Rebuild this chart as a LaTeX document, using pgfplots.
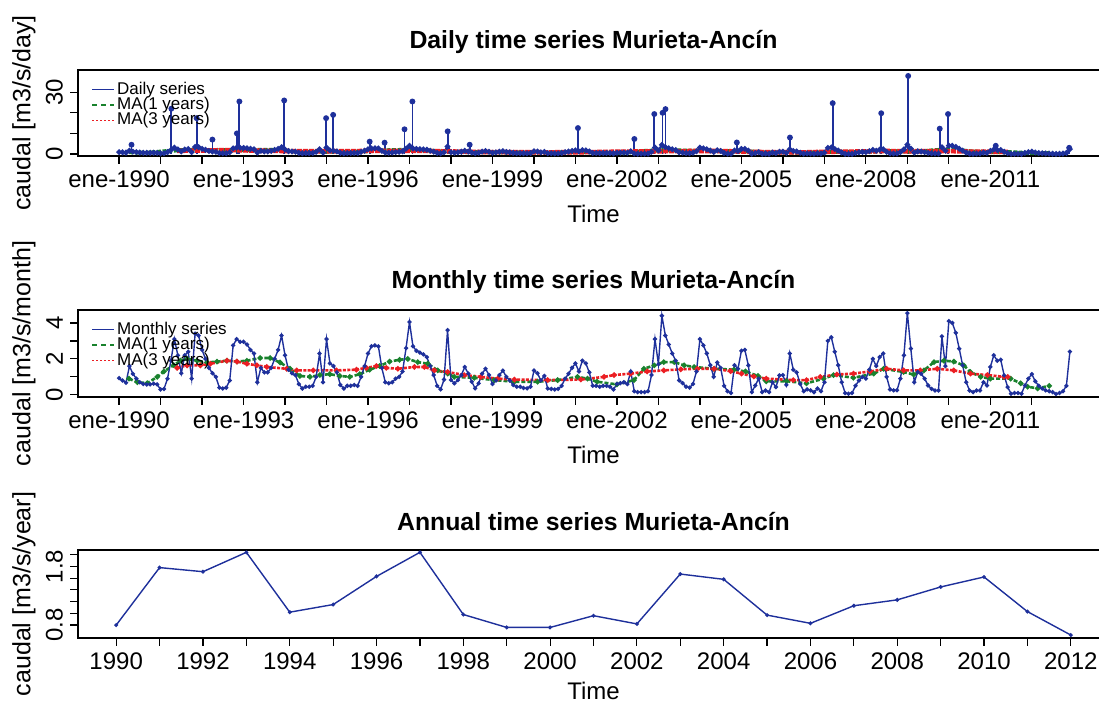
\documentclass[border=0pt]{standalone}
\usepackage{fontspec}
\setmainfont{Liberation Sans}
\usepackage{pgfplots}
\usepackage{pgfplotstable}
\pgfplotsset{compat=1.18}
\definecolor{ser}{RGB}{30,48,155}
\definecolor{magreen}{RGB}{25,130,45}
\definecolor{mared}{RGB}{235,30,35}

\pgfplotstableread{
t v
1990.000 0.93
1990.083 0.80
1990.167 0.67
1990.250 1.60
1990.333 1.17
1990.417 0.90
1990.500 0.70
1990.583 0.60
1990.667 0.58
1990.750 0.58
1990.833 0.62
1990.917 0.58
1991.000 0.30
1991.083 0.33
1991.167 0.90
1991.250 1.90
1991.333 3.10
1991.417 2.20
1991.500 1.20
1991.583 2.20
1991.667 2.40
1991.750 0.90
1991.833 3.40
1991.917 3.30
1992.000 2.50
1992.083 2.00
1992.167 1.50
1992.250 1.20
1992.333 1.00
1992.417 0.40
1992.500 0.35
1992.583 0.40
1992.667 0.80
1992.750 2.75
1992.833 3.10
1992.917 2.95
1993.000 2.95
1993.083 2.80
1993.167 2.50
1993.250 2.30
1993.333 0.70
1993.417 1.50
1993.500 1.25
1993.583 1.25
1993.667 1.50
1993.750 2.00
1993.833 2.50
1993.917 3.30
1994.000 2.20
1994.083 1.40
1994.167 1.20
1994.250 1.10
1994.333 0.60
1994.417 0.35
1994.500 0.45
1994.583 0.45
1994.667 0.50
1994.750 1.00
1994.833 2.30
1994.917 0.70
1995.000 3.10
1995.083 1.75
1995.167 1.60
1995.250 1.25
1995.333 0.55
1995.417 0.35
1995.500 0.50
1995.583 0.50
1995.667 0.55
1995.750 0.50
1995.833 1.00
1995.917 1.60
1996.000 2.30
1996.083 2.70
1996.167 2.75
1996.250 2.70
1996.333 1.50
1996.417 0.70
1996.500 0.65
1996.583 0.70
1996.667 0.90
1996.750 1.00
1996.833 1.30
1996.917 2.60
1997.000 4.05
1997.083 2.70
1997.167 2.45
1997.250 2.35
1997.333 2.25
1997.417 2.10
1997.500 1.60
1997.583 1.10
1997.667 0.50
1997.750 0.30
1997.833 0.85
1997.917 3.60
1998.000 0.82
1998.083 0.64
1998.167 0.82
1998.250 1.10
1998.333 1.55
1998.417 1.18
1998.500 0.73
1998.583 0.36
1998.667 0.64
1998.750 1.18
1998.833 1.45
1998.917 1.10
1999.000 0.60
1999.083 0.80
1999.167 1.10
1999.250 1.35
1999.333 1.00
1999.417 0.80
1999.500 0.55
1999.583 0.45
1999.667 0.45
1999.750 0.38
1999.833 0.36
1999.917 0.45
2000.000 1.35
2000.083 1.20
2000.167 0.80
2000.250 1.05
2000.333 0.35
2000.417 0.33
2000.500 0.30
2000.583 0.33
2000.667 0.50
2000.750 0.90
2000.833 1.17
2000.917 1.50
2001.000 1.75
2001.083 1.30
2001.167 1.90
2001.250 1.75
2001.333 1.25
2001.417 0.50
2001.500 0.50
2001.583 0.45
2001.667 0.50
2001.750 0.50
2001.833 0.45
2001.917 0.30
2002.000 0.60
2002.083 0.65
2002.167 0.70
2002.250 0.60
2002.333 1.30
2002.417 0.20
2002.500 0.15
2002.583 0.15
2002.667 0.15
2002.750 0.20
2002.833 1.10
2002.917 3.10
2003.000 1.70
2003.083 4.40
2003.167 3.30
2003.250 2.80
2003.333 2.30
2003.417 1.90
2003.500 0.80
2003.583 0.65
2003.667 0.45
2003.750 0.40
2003.833 0.60
2003.917 1.30
2004.000 3.10
2004.083 2.75
2004.167 2.30
2004.250 1.65
2004.333 1.00
2004.417 1.80
2004.500 1.50
2004.583 0.50
2004.667 0.20
2004.750 0.10
2004.833 1.65
2004.917 1.45
2005.000 2.45
2005.083 2.50
2005.167 1.64
2005.250 0.15
2005.333 0.52
2005.417 0.90
2005.500 0.15
2005.583 0.24
2005.667 0.15
2005.750 0.70
2005.833 0.43
2005.917 1.08
2006.000 1.10
2006.083 0.55
2006.167 2.30
2006.250 1.40
2006.333 1.25
2006.417 0.60
2006.500 0.20
2006.583 0.30
2006.667 0.25
2006.750 0.15
2006.833 0.35
2006.917 0.20
2007.000 0.70
2007.083 3.00
2007.167 3.20
2007.250 2.40
2007.333 1.65
2007.417 0.70
2007.500 0.10
2007.583 0.06
2007.667 0.10
2007.750 0.50
2007.833 0.80
2007.917 1.00
2008.000 0.90
2008.083 1.40
2008.167 2.00
2008.250 1.60
2008.333 2.10
2008.417 2.30
2008.500 1.00
2008.583 0.30
2008.667 0.25
2008.750 0.25
2008.833 0.90
2008.917 2.20
2009.000 4.55
2009.083 2.57
2009.167 0.70
2009.250 1.27
2009.333 1.17
2009.417 0.90
2009.500 0.52
2009.583 0.33
2009.667 0.24
2009.750 0.24
2009.833 3.25
2009.917 1.60
2010.000 4.10
2010.083 4.00
2010.167 3.45
2010.250 2.57
2010.333 1.64
2010.417 0.70
2010.500 0.24
2010.583 0.15
2010.667 0.24
2010.750 0.24
2010.833 0.70
2010.917 0.52
2011.000 1.55
2011.083 2.20
2011.167 1.90
2011.250 1.95
2011.333 1.08
2011.417 0.43
2011.500 0.06
2011.583 0.10
2011.667 0.10
2011.750 0.06
2011.833 0.52
2011.917 0.90
2012.000 1.15
2012.083 0.75
2012.167 0.50
2012.250 0.35
2012.333 0.25
2012.417 0.20
2012.500 0.15
2012.583 0.05
2012.667 0.10
2012.750 0.20
2012.833 0.50
2012.917 2.40
}\monthly

\pgfplotstableread{
t v
1990.30 4.5
1991.26 22
1991.87 17.4
1992.25 7
1992.84 10
1992.90 25.5
1993.98 26
1994.99 17.4
1995.16 19
1996.04 6
1996.40 5.5
1996.88 12
1997.07 25.5
1997.92 11
1998.45 4.5
2001.06 12.6
2002.42 7.3
2002.90 19.4
2003.10 20
2003.17 21.8
2004.89 5.6
2006.17 8
2007.20 24.7
2008.37 19.8
2009.02 37.9
2009.78 12.3
2009.98 19.4
2011.13 4
2012.90 3
}\spikes

\pgfplotstableread{
t v
1990.24 0.90
1990.44 0.70
1990.68 0.65
1990.92 1.00
1991.08 1.30
1991.32 1.65
1991.48 1.90
1991.64 2.00
1991.88 1.90
1992.12 1.80
1992.36 1.85
1992.60 1.90
1992.84 1.85
1993.08 1.90
1993.40 2.05
1993.64 2.05
1993.88 1.80
1994.12 1.45
1994.36 1.05
1994.60 1.00
1994.84 1.10
1995.08 1.15
1995.32 1.05
1995.56 1.00
1995.80 1.15
1996.04 1.40
1996.28 1.60
1996.52 1.85
1996.76 1.95
1996.96 2.00
1997.20 1.82
1997.44 1.73
1997.68 1.36
1997.92 1.18
1998.08 1.00
1998.56 0.95
1999.04 0.82
1999.53 0.73
2000.09 0.73
2000.57 0.82
2001.05 1.00
2001.29 0.90
2001.52 0.73
2002.00 0.58
2002.41 0.82
2002.65 1.45
2002.90 1.64
2003.13 1.82
2003.38 1.82
2003.62 1.64
2003.86 1.55
2004.34 1.45
2004.82 1.40
2005.10 1.30
2005.40 1.05
2005.60 0.75
2006.09 0.76
2006.57 0.64
2006.98 0.90
2007.22 1.10
2007.70 0.95
2008.19 1.18
2008.43 1.45
2008.91 1.27
2009.15 1.13
2009.40 1.36
2009.64 1.82
2009.88 1.90
2010.12 1.85
2010.36 1.64
2010.52 1.27
2010.77 1.00
2011.00 0.90
2011.49 0.90
2011.73 0.64
2011.90 0.45
2012.14 0.36
2012.42 0.50
}\maone

\pgfplotstableread{
t v
1991.40 1.50
1991.64 1.64
1991.96 1.64
1992.20 1.73
1992.60 1.90
1992.84 1.85
1993.08 1.73
1993.32 1.64
1993.56 1.55
1994.04 1.45
1994.28 1.36
1994.68 1.36
1995.24 1.36
1995.72 1.40
1995.96 1.50
1996.20 1.60
1996.44 1.50
1996.72 1.45
1997.12 1.55
1997.36 1.55
1997.60 1.36
1997.92 1.27
1998.32 1.10
1998.72 1.00
1999.13 0.90
1999.53 0.85
2000.33 0.82
2001.13 0.85
2001.69 1.00
2001.93 1.10
2002.33 1.18
2002.73 1.30
2003.13 1.36
2003.54 1.42
2003.94 1.45
2004.34 1.45
2004.74 1.32
2005.00 1.18
2005.30 1.02
2005.60 0.90
2006.25 0.82
2006.57 0.82
2006.90 1.00
2007.30 1.13
2007.70 1.18
2008.10 1.30
2008.50 1.45
2008.91 1.36
2009.31 1.36
2009.72 1.45
2010.12 1.36
2010.52 1.18
2010.93 1.10
2011.33 1.00
2011.42 1.00
}\mathree

\pgfplotstableread{
t v
1990 0.80
1991 1.78
1992 1.71
1993 2.04
1994 1.02
1995 1.15
1996 1.63
1997 2.04
1998 0.98
1999 0.76
2000 0.76
2001 0.96
2002 0.82
2003 1.67
2004 1.58
2005 0.97
2006 0.83
2007 1.13
2008 1.23
2009 1.45
2010 1.62
2011 1.03
2012 0.63
}\annual

\pgfplotsset{
  panel/.style={
    scale only axis,
    width=515.5pt,
    axis line style={line width=0.7pt},
    tick align=outside,
    major tick length=4pt,
    every tick/.style={black, line width=0.6pt},
    xtick pos=bottom, ytick pos=left,
    ticklabel style={font=\fontsize{12}{14}\selectfont},
    /pgf/number format/assume math mode=true,
    /pgf/number format/1000 sep={},
    title style={font=\bfseries\fontsize{12.4}{14}\selectfont, at={(axis description cs:0.5,1)}, anchor=center, yshift=8pt},
    every axis x label/.style={at={(axis description cs:0.5,0)}, anchor=center, yshift=-29pt, font=\fontsize{12}{14}\selectfont},
    every axis y label/.style={at={(axis description cs:0,0.5)}, xshift=-27pt, rotate=90, anchor=center, font=\fontsize{12.5}{14}\selectfont},
    yticklabel style={rotate=90, anchor=south},
    legend style={draw=none, fill=none, at={(axis description cs:0.012,0.9)}, anchor=north west, font=\fontsize{8.5}{8.5}\selectfont, row sep=-2pt, inner sep=0.5pt, nodes={inner sep=1pt}},
    legend cell align=left,
    legend image code/.code={\draw[##1] (0pt,0pt) -- (11pt,0pt);},
  },
  dayx/.style={
    xmin=1989.01, xmax=2013.86,
    xtick={1990,1991,...,2012},
    xticklabels={ene-1990,,,ene-1993,,,ene-1996,,,ene-1999,,,ene-2002,,,ene-2005,,,ene-2008,,,ene-2011,,},
  },
}

\begin{document}
\begin{tikzpicture}
\useasboundingbox (0pt,0pt) rectangle (549.5pt,-352pt);

% Daily panel
\begin{axis}[panel, dayx,
  at={(39pt,-35pt)}, anchor=north west, height=43pt,
  ymin=-0.97, ymax=40.8,
  ytick={0,10,20,30}, yticklabels={0,,,30},
  title={Daily time series Murieta-Ancín},
  xlabel={Time}, ylabel={caudal [m3/s/day]}]
\addlegendimage{ser, line width=0.7pt}\addlegendentry{Daily series}
\addlegendimage{magreen, line width=0.7pt, dash pattern=on 2.5pt off 2pt}\addlegendentry{MA(1 years)}
\addlegendimage{mared, line width=0.7pt, dash pattern=on 1pt off 1pt}\addlegendentry{MA(3 years)}
\addplot[ser, line width=1.1pt, mark=*, mark size=0.8pt, forget plot] table[x=t,y=v] {\monthly};
\addplot[ser, line width=0.9pt, ycomb, mark=*, mark size=1pt, forget plot] table[x=t,y=v] {\spikes};
\addplot[magreen, line width=2pt, dash pattern=on 2pt off 0.8pt, forget plot] table[x=t,y=v] {\maone};
\addplot[mared, line width=2.3pt, dash pattern=on 2.5pt off 0.5pt, forget plot] table[x=t,y=v] {\mathree};
\end{axis}

% Monthly panel
\begin{axis}[panel, dayx,
  at={(39pt,-155pt)}, anchor=north west, height=43.5pt,
  ymin=-0.12, ymax=4.72,
  ytick={0,1,2,3,4}, yticklabels={0,,2,,4},
  title={Monthly time series Murieta-Ancín},
  xlabel={Time}, ylabel={caudal [m3/s/month]}]
\addlegendimage{ser, line width=0.7pt}\addlegendentry{Monthly series}
\addlegendimage{magreen, line width=0.7pt, dash pattern=on 2.5pt off 2pt}\addlegendentry{MA(1 years)}
\addlegendimage{mared, line width=0.7pt, dash pattern=on 1pt off 1pt}\addlegendentry{MA(3 years)}
\addplot[magreen, line width=1.3pt, dash pattern=on 2pt off 1pt, mark=*, mark size=0.6pt, mark options={solid}, forget plot] table[x=t,y=v] {\maone};
\addplot[mared, line width=1.3pt, dash pattern=on 1.5pt off 0.7pt, mark=*, mark size=0.6pt, mark options={solid}, forget plot] table[x=t,y=v] {\mathree};
\addplot[ser, line width=0.7pt, mark=*, mark size=0.7pt, forget plot] table[x=t,y=v] {\monthly};
\end{axis}

% Annual panel
\begin{axis}[panel,
  at={(39pt,-275pt)}, anchor=north west, height=44pt,
  xmin=1989.12, xmax=2012.88,
  xtick={1990,1991,...,2012},
  xticklabels={1990,,1992,,1994,,1996,,1998,,2000,,2002,,2004,,2006,,2008,,2010,,2012},
  ymin=0.58, ymax=2.08,
  ytick={0.8,1.0,1.2,1.4,1.6,1.8,2.0}, yticklabels={0.8,,,,,1.8,},
  title={Annual time series Murieta-Ancín},
  every axis x label/.append style={yshift=2.5pt},
  xlabel={Time}, ylabel={caudal [m3/s/year]}]
\addplot[ser, line width=0.7pt, mark=*, mark size=0.6pt] table[x=t,y=v] {\annual};
\end{axis}
\end{tikzpicture}
\end{document}
